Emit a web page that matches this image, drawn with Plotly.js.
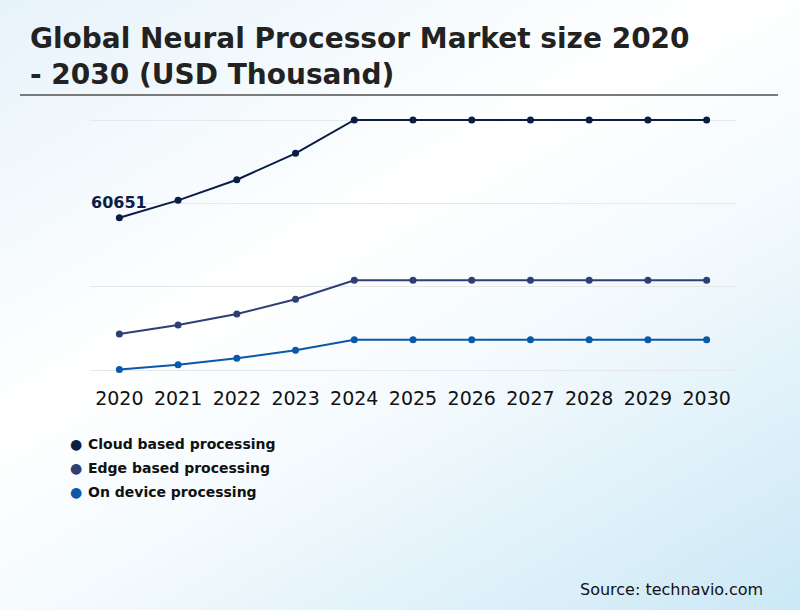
<!DOCTYPE html>
<html>
<head>
<meta charset="utf-8">
<script src="https://cdn.plot.ly/plotly-3.0.1.min.js"></script>
<style>
  html, body { margin: 0; padding: 0; }
  body {
    width: 800px; height: 610px; overflow: hidden;
    background: linear-gradient(150deg, #e7f3fa 0%, #ffffff 40%, #f4fafd 60%, #cbe8f6 100%);
  }
  #plot { width: 800px; height: 610px; }
</style>
</head>
<body>
<div id="plot"></div>
<script>
// chart values (USD thousand)
let years = ["2020", "2021", "2022", "2023", "2024", "2025", "2026", "2027", "2028", "2029", "2030"];
let seriesNames = ["Cloud based processing", "Edge based processing", "On device processing"];
let cloud = [60651, 67550, 75750, 86270, 99540, 99540, 99540, 99540, 99540, 99540, 99540];
let edge = [14330, 17920, 22300, 28140, 35700, 35700, 35700, 35700, 35700, 35700, 35700];
let onDevice = [200, 2120, 4650, 7830, 12080, 12080, 12080, 12080, 12080, 12080, 12080];
let colors = ["#0b1d45", "#2d3f74", "#0a58a8"];

let allSeries = [cloud, edge, onDevice];

let traces = allSeries.map(function (vals, i) {
  return {
    x: years,
    y: vals,
    name: seriesNames[i],
    type: "scatter",
    mode: "lines+markers",
    line: { color: colors[i], width: 2 },
    marker: { color: colors[i], size: 7 },
    cliponaxis: false,
    showlegend: false,
    hoverinfo: "x+y"
  };
});

// legend drawn as a dot + bold label per series
let annotations = [];
let legendY = [-0.237, -0.326, -0.415];
seriesNames.forEach(function (name, i) {
  annotations.push({
    xref: "paper", yref: "paper", x: -0.0217, y: legendY[i],
    text: "●", showarrow: false, xanchor: "center", yanchor: "middle",
    font: { family: "DejaVu Sans", size: 14, color: colors[i] }
  });
  annotations.push({
    xref: "paper", yref: "paper", x: -0.0062, y: legendY[i],
    text: "<b>" + name + "</b>", showarrow: false, xanchor: "left", yanchor: "middle",
    font: { family: "DejaVu Sans", size: 14, color: "#111" }
  });
});

// first value label (x given as category index)
annotations.push({
  xref: "x", yref: "y", x: 0, y: cloud[0], text: "<b>" + cloud[0] + "</b>", showarrow: false,
  xanchor: "center", yanchor: "middle", yshift: 15,
  font: { family: "DejaVu Sans", size: 16, color: colors[0] }
});

// source
annotations.push({
  xref: "paper", yref: "paper", x: 1.0446, y: -0.775,
  text: "Source: technavio.com", showarrow: false, xanchor: "right", yanchor: "middle",
  font: { family: "DejaVu Sans", size: 16, color: "#111" }
});

let layout = {
  width: 800,
  height: 610,
  paper_bgcolor: "rgba(0,0,0,0)",
  plot_bgcolor: "rgba(0,0,0,0)",
  margin: { l: 90, r: 64, t: 110, b: 230 },
  title: {
    text: "<b>Global Neural Processor Market size 2020<br>- 2030 (USD Thousand)</b>",
    x: 30 / 800, xanchor: "left", xref: "container",
    y: 1 - 48 / 610, yanchor: "top", yref: "container",
    font: { family: "DejaVu Sans", size: 28, color: "#222" }
  },
  xaxis: {
    type: "category",
    range: [-0.5, 10.5],
    showgrid: false, zeroline: false, showline: false,
    ticks: "", ticklabelstandoff: 5,
    tickfont: { family: "DejaVu Sans", size: 19, color: "#111" }
  },
  yaxis: {
    range: [-3982, 103520],
    tick0: 0, dtick: 33180,
    showticklabels: false, zeroline: false, showline: false,
    gridcolor: "#e5e7ea", gridwidth: 1
  },
  shapes: [{
    type: "line", xref: "paper", yref: "paper",
    x0: -0.1084, x1: 1.065, y0: 1.0556, y1: 1.0556,
    line: { color: "#7a7a7a", width: 2 }
  }],
  annotations: annotations,
  showlegend: false
};

Plotly.newPlot("plot", traces, layout, { displayModeBar: false, responsive: false });
</script>
</body>
</html>
